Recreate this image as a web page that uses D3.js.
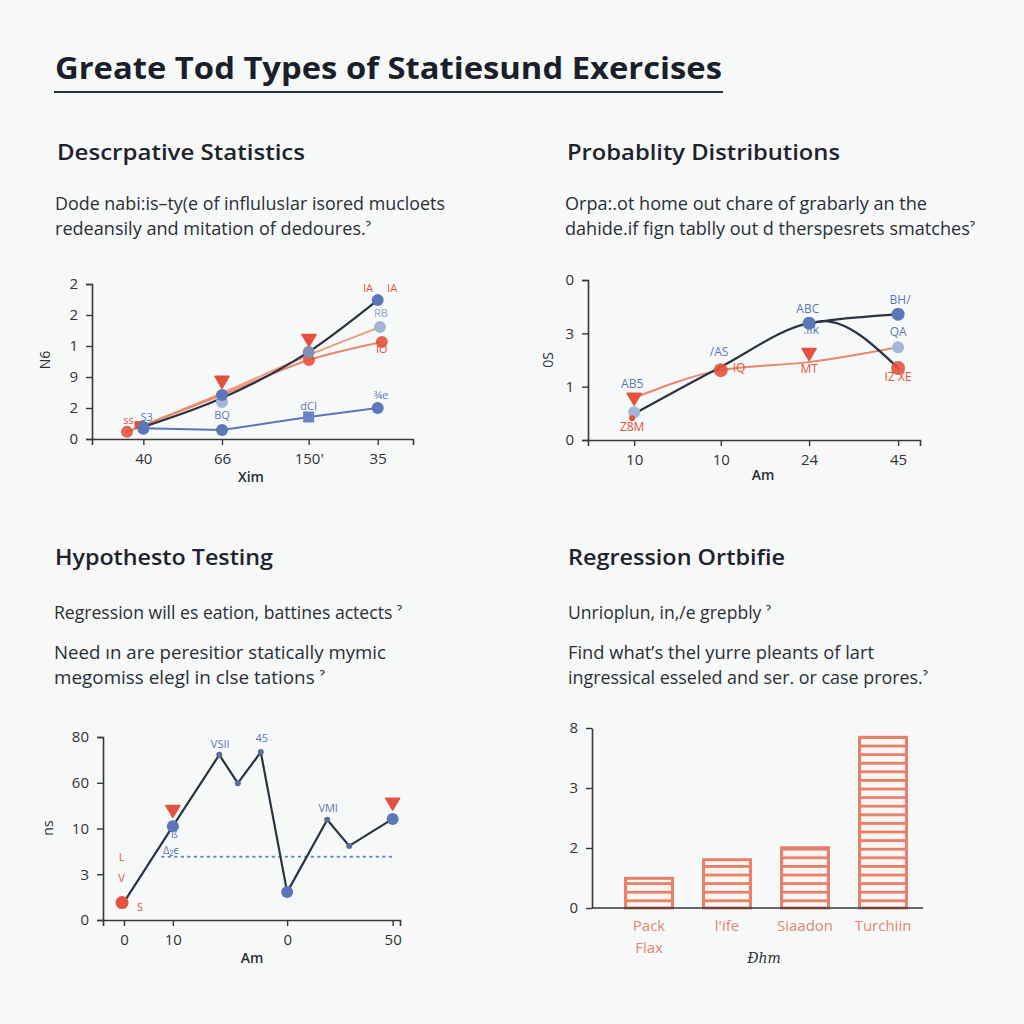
<!DOCTYPE html>
<html><head><meta charset="utf-8">
<script src="https://cdn.jsdelivr.net/npm/d3@7"></script>
<style>
html,body{margin:0;padding:0;background:#f7f9f9;}
svg{display:block;}
</style></head>
<body>
<script>
// ---------- DATA ----------
const titleText = "Greate Tod Types of Statiesund Exercises";
const headings = ["Descrpative Statistics","Probablity Distributions","Hypothesto Testing","Regression Ortbifie"];
const bodyP1 = ["Dode nabi:is\u2013ty(e of influlusIar isored mucloets","redeansily and mitation of dedoures.\u02C0"];
const bodyP2 = ["Orpa:.ot home out chare of grabarly an the","dahide.if fign tablly out d therspesrets smatches\u02C0"];
const bodyP3a = ["Regression will es eation, battines actects \u02C0"];
const bodyP3b = ["Need \u0131n are peresitior statically mymic","megomiss elegl in clse tations \u02C0"];
const bodyP4a = ["Unrioplun, in,/e grepbly \u02C0"];
const bodyP4b = ["Find what\u2019s thel yurre pleants of lart","ingressical esseled and ser. or case prores.\u02C0"];

// Panel 1
const p1TickX = [1.6, 4.05, 6.75, 8.9];
const p1TickXLabels = ["40","66","150'","35"];
const p1TickY = [0,1,2,3,4,5];
const p1TickYLabels = ["0","2","9","1","2","2"];
const p1Dark = [[1.6,0.39],[4.05,1.32],[6.75,2.81],[8.9,4.48]];
const p1OrangeA = [[1.09,0.23],[4.05,1.48],[6.76,2.71],[8.97,3.61]];
const p1OrangeB = [[1.09,0.23],[4.05,1.42],[6.76,2.55],[9.03,3.13]];
const p1Blue = [[1.6,0.35],[4.05,0.29],[6.75,0.71],[8.9,1.0]];
const p1DarkDots = [[1.6,0.39],[4.05,1.42],[8.9,4.48]];
const p1GreyDots = [[6.75,2.81]];
const p1LightDots = [[4.05,1.19],[8.97,3.61]];
const p1RedDots = [[6.76,2.55],[9.03,3.13],[1.09,0.23]];
const p1RedSquares = [[1.45,0.45]];
const p1RedTris = [[4.05,1.84],[6.76,3.19]];
const p1BlueDots = [[4.05,0.29],[8.9,1.0],[1.6,0.33]];
const p1BlueSquares = [[6.75,0.71]];
const p1Labels = [[8.6,4.73,"IA","r"],[9.35,4.73,"IA","r"],[9.0,3.95,"RB","l"],[9.03,2.78,"IO","r"],[4.05,0.63,"BQ","b"],[6.75,0.95,"dCI","b"],[9.0,1.28,"\u00BEe","b"],[1.14,0.47,"ss","r"],[1.7,0.57,"S3","b"]];

// Panel 2
const p2TickX = [1.39, 4.0, 6.66, 9.34];
const p2TickXLabels = ["10","10","24","45"];
const p2TickY = [0,1,2,3];
const p2TickYLabels = ["0","1","3","0"];
const p2Dark = [[1.5,0.53],[4.0,1.37],[6.66,2.19],[7.1,2.23],[9.34,1.35]];
const p2DarkUpper = [[6.66,2.19],[7.1,2.23],[9.34,2.36]];
const p2Orange = [[1.39,0.79],[4.0,1.31],[6.66,1.46],[9.34,1.74]];
const p2RedTris = [[1.39,0.77],[6.66,1.61]];
const p2RedDots = [[4.0,1.31],[9.34,1.35],[1.33,0.41]];
const p2BlueDots = [[6.66,2.19],[9.34,2.36]];
const p2LightDots = [[1.39,0.52],[9.34,1.74]];
const p2Labels = [[1.33,0.97,"AB5","b"],[1.33,0.17,"Z8M","r"],[3.95,1.58,"/AS","b"],[4.55,1.28,"IQ","r"],[6.62,2.38,"ABC","b"],[6.72,1.98,".\u0131Ik","b"],[6.66,1.26,"MT","r"],[9.4,2.55,"BH/","b"],[9.34,1.95,"QA","b"],[9.34,1.11,"IZ XE","r"]];

// Panel 3
const p3TickX = [0, 10, 33.4, 55];
const p3TickXLabels = ["0","10","0","50"];
const p3TickY = [0,1,2,3,4];
const p3TickYLabels = ["0","3","10","60","80"];
const p3Line = [[0,0.39],[10,2.05],[19.5,3.61],[23.3,2.99],[28,3.67],[33.4,0.61],[41.6,2.19],[46.1,1.62],[55,2.21]];
const p3Dotted = [[7.8,1.38],[55.2,1.38]];
const p3RedDots = [[-0.4,0.38]];
const p3BlueDots = [[10,2.05],[33.4,0.61],[55,2.21]];
const p3SmallDots = [[19.5,3.61],[23.3,2.99],[28,3.67],[41.6,2.19],[46.1,1.62]];
const p3RedTris = [[10,2.38],[55,2.54]];
const p3Labels = [[19.7,3.76,"VSII","b"],[28.2,3.9,"45","b"],[41.8,2.35,"VMI","b"],[-0.5,1.3,"L","r"],[-0.5,0.84,"V","r"],[3.3,0.2,"S","r"],[10.3,1.8,"\u00DF","b"],[9.6,1.45,"\u0394\u2082\u03F5","b"]];

// Panel 4
const p4Cats = ["Pack","l'ife","Siaadon","Turchiin"];
const p4Cats2 = ["Flax","","",""];
const p4Vals = [0.52, 0.83, 1.03, 2.87];
const p4TickY = [0,1,2,3];
const p4TickYLabels = ["0","2","3","8"];

// ---------- COLORS ----------
const C = {dark:"#2c3242", blue:"#5b76b9", light:"#a3b5d9", grey:"#7f90b6", red:"#e3523d", orange:"#e8876c", text:"#2a2d33", axis:"#35383d", bar:"#e4806a"};

const W=1024,H=1024;
const svg = d3.select("body").append("svg").attr("width",W).attr("height",H);
svg.append("rect").attr("width",W).attr("height",H).attr("fill","#f7f9f9");
const FONT = "'Open Sans', 'Noto Sans', sans-serif";

function fitText(sel, width){
  sel.attr("textLength", width).attr("lengthAdjust","spacingAndGlyphs");
}

// Title
svg.append("text").attr("x",55).attr("y",79).text(titleText)
  .attr("font-family",FONT).attr("font-weight",700).attr("font-size",31).attr("fill","#1b1f2b")
  .call(fitText, 667);
svg.append("line").attr("x1",54).attr("x2",723).attr("y1",92).attr("y2",92).attr("stroke","#2b2f3a").attr("stroke-width",2);

// Headings and bodies
function heading(t,x,y,w){
  svg.append("text").attr("x",x).attr("y",y).text(t).attr("font-family",FONT).attr("font-weight",600)
   .attr("font-size",22).attr("fill","#1e222c").call(fitText,w);
}
function body(t,x,y,w){
  svg.append("text").attr("x",x).attr("y",y).text(t).attr("font-family",FONT)
   .attr("font-size",18).attr("fill","#2b2e35").call(fitText,w);
}
heading(headings[0],57,160,248);
heading(headings[1],567,160,273);
heading(headings[2],55,565,218);
heading(headings[3],568,565,217);
body(bodyP1[0],55,210,390); body(bodyP1[1],55,235,316);
body(bodyP2[0],565,210,362); body(bodyP2[1],565,235,410);
body(bodyP3a[0],54,619,348);
body(bodyP3b[0],54,659,332); body(bodyP3b[1],54,684,271);
body(bodyP4a[0],568,619,203);
body(bodyP4b[0],568,659,306); body(bodyP4b[1],568,684,360);

// Generic axis helper
function drawAxes(x, y, xTicks, xLabels, yTicks, yLabels, xLabelText, xLabelPos, yLabelText, yLabelPos){
  const gx = svg.append("g").attr("transform",`translate(0,${y.range()[0]})`)
    .call(d3.axisBottom(x).tickValues(xTicks).tickFormat((d,i)=>xLabels[i]).tickSizeOuter(0).tickSize(6).tickPadding(8));
  const gy = svg.append("g").attr("transform",`translate(${x.range()[0]},0)`)
    .call(d3.axisLeft(y).tickValues(yTicks).tickFormat((d,i)=>yLabels[i]).tickSizeOuter(0).tickSize(6).tickPadding(8));
  [gx,gy].forEach(g=>{
    g.select(".domain").attr("stroke",C.axis).attr("stroke-width",1.6);
    g.selectAll(".tick line").attr("stroke",C.axis).attr("stroke-width",1.4);
    g.selectAll(".tick text").attr("font-family",FONT).attr("font-size",15).attr("fill","#303238");
  });
  if(xLabelText){
    svg.append("text").attr("x",xLabelPos[0]).attr("y",xLabelPos[1]).attr("text-anchor","middle").text(xLabelText)
      .attr("font-family",FONT).attr("font-weight",600).attr("font-size",14).attr("fill","#2a2d33");
  }
  if(yLabelText){
    svg.append("text").attr("transform",`translate(${yLabelPos[0]},${yLabelPos[1]}) rotate(-90)`).attr("text-anchor","middle").text(yLabelText)
      .attr("font-family",FONT).attr("font-size",14).attr("fill","#2a2d33");
  }
}

function pathLine(x,y,data,color,width,curve,dash){
  const l = d3.line().x(d=>x(d[0])).y(d=>y(d[1])).curve(curve||d3.curveLinear);
  const p = svg.append("path").attr("d",l(data)).attr("fill","none").attr("stroke",color).attr("stroke-width",width)
    .attr("stroke-linejoin","round").attr("stroke-linecap","round");
  if(dash) p.attr("stroke-dasharray",dash);
  return p;
}
function dots(x,y,data,color,r,opacity){
  svg.append("g").selectAll("circle").data(data).join("circle")
   .attr("cx",d=>x(d[0])).attr("cy",d=>y(d[1])).attr("r",r).attr("fill",color).attr("opacity",opacity||1);
}
function squares(x,y,data,color,s){
  svg.append("g").selectAll("rect").data(data).join("rect")
   .attr("x",d=>x(d[0])-s/2).attr("y",d=>y(d[1])-s/2).attr("width",s).attr("height",s).attr("fill",color);
}
function tris(x,y,data,color,s){
  svg.append("g").selectAll("path").data(data).join("path")
   .attr("d",d=>{const cx=x(d[0]),cy=y(d[1]);return `M${cx-s},${cy-s*0.8}L${cx+s},${cy-s*0.8}L${cx},${cy+s*0.9}Z`;})
   .attr("fill",color).attr("stroke",color).attr("stroke-width",1.5).attr("stroke-linejoin","round");
}
function labels(x,y,data,size){
  svg.append("g").selectAll("text").data(data).join("text")
   .attr("x",d=>x(d[0])).attr("y",d=>y(d[1])).attr("text-anchor","middle").text(d=>d[2])
   .attr("font-family",FONT).attr("font-size",size||11)
   .attr("fill",d=>d[3]==="r"?C.red:(d[3]==="l"?"#8ea3cf":C.blue));
}

// ---------- Panel 1 ----------
{
  const x = d3.scaleLinear().domain([0,10]).range([92,413]);
  const y = d3.scaleLinear().domain([0,5]).range([439,284]);
  drawAxes(x,y,p1TickX,p1TickXLabels,p1TickY,p1TickYLabels,"Xim",[251,482],"N6",[50,360]);
  pathLine(x,y,p1OrangeA,"#eb9a80",2,d3.curveMonotoneX);
  pathLine(x,y,p1OrangeB,C.orange,2,d3.curveMonotoneX);
  pathLine(x,y,p1Blue,C.blue,2);
  pathLine(x,y,p1Dark,C.dark,2.2,d3.curveMonotoneX);
  dots(x,y,p1LightDots,C.light,6);
  dots(x,y,p1RedDots,C.red,6,0.9);
  squares(x,y,p1RedSquares,C.red,8);
  dots(x,y,p1GreyDots,C.grey,6);
  dots(x,y,p1DarkDots,C.blue,6);
  dots(x,y,p1BlueDots,C.blue,6);
  squares(x,y,p1BlueSquares,"#6a85c2",11);
  tris(x,y,p1RedTris,C.red,7);
  labels(x,y,p1Labels,11);
}

// ---------- Panel 2 ----------
{
  const x = d3.scaleLinear().domain([0,10]).range([588,920]);
  const y = d3.scaleLinear().domain([0,3]).range([440,280]);
  drawAxes(x,y,p2TickX,p2TickXLabels,p2TickY,p2TickYLabels,"Am",[763,480],"0S",[553,360]);
  pathLine(x,y,p2Orange,C.orange,2,d3.curveMonotoneX);
  pathLine(x,y,p2Dark,C.dark,2.2,d3.curveMonotoneX);
  pathLine(x,y,p2DarkUpper,C.dark,2.2,d3.curveMonotoneX);
  dots(x,y,p2LightDots,C.light,6);
  dots(x,y,p2RedDots.slice(0,2),C.red,7,0.9);
  dots(x,y,p2RedDots.slice(2),C.red,3);
  dots(x,y,p2BlueDots,C.blue,6.5);
  tris(x,y,p2RedTris,C.red,7);
  labels(x,y,p2Labels,12);
}

// ---------- Panel 3 ----------
{
  const x = d3.scaleLinear().domain([-4.3,56.5]).range([103,400]);
  const y = d3.scaleLinear().domain([0,4]).range([920,737]);
  drawAxes(x,y,p3TickX,p3TickXLabels,p3TickY,p3TickYLabels,"Am",[252,963],"ns",[53,828]);
  pathLine(x,y,p3Dotted,"#6f86bd",2,null,"1.5,5");
  pathLine(x,y,p3Line,C.dark,2.2);
  dots(x,y,p3SmallDots,"#5d6f99",3);
  dots(x,y,p3RedDots,C.red,6.5);
  dots(x,y,p3BlueDots,C.blue,6);
  tris(x,y,p3RedTris,C.red,7);
  labels(x,y,p3Labels,11);
}

// ---------- Panel 4 ----------
{
  const x = d3.scaleBand().domain(p4Cats).range([610,922]).paddingInner(0.36).paddingOuter(0.18);
  const y = d3.scaleLinear().domain([0,3]).range([908,728]);
  const defs = svg.append("defs");
  const pat = defs.append("pattern").attr("id","stripes").attr("patternUnits","userSpaceOnUse")
    .attr("width",10).attr("height",8.6).attr("y",908);
  pat.append("rect").attr("width",10).attr("height",8.6).attr("fill","#fbf4f1");
  pat.append("rect").attr("y",0).attr("width",10).attr("height",2.8).attr("fill",C.bar);
  svg.append("g").selectAll("rect").data(p4Vals).join("rect")
    .attr("x",(d,i)=>x(p4Cats[i])+1.5).attr("width",x.bandwidth()-3)
    .attr("y",d=>y(d)+1.5).attr("height",d=>y(0)-y(d)-1.5)
    .attr("fill","url(#stripes)").attr("stroke",C.bar).attr("stroke-width",3);
  const gx = svg.append("g").attr("transform","translate(0,908)")
    .call(d3.axisBottom(x).tickSize(0).tickSizeOuter(0).tickPadding(12));
  gx.select(".domain").attr("d","M592,0H923").attr("stroke",C.axis).attr("stroke-width",1.6);
  gx.selectAll(".tick text").attr("font-family",FONT).attr("font-size",15).attr("fill","#e0876f");
  gx.selectAll(".tick").append("text").attr("y",45).attr("fill","#e0876f").attr("text-anchor","middle")
    .attr("font-family",FONT).attr("font-size",15).text((d,i)=>p4Cats2[i]);
  const gy = svg.append("g").attr("transform","translate(592,0)")
    .call(d3.axisLeft(y).tickValues(p4TickY).tickFormat((d,i)=>p4TickYLabels[i]).tickSize(6).tickSizeOuter(0).tickPadding(8));
  gy.select(".domain").attr("stroke",C.axis).attr("stroke-width",1.6);
  gy.selectAll(".tick line").attr("stroke",C.axis).attr("stroke-width",1.4);
  gy.selectAll(".tick text").attr("font-family",FONT).attr("font-size",15).attr("fill","#303238");
  svg.append("text").attr("x",764).attr("y",963).attr("text-anchor","middle").text("\u0110hm")
    .attr("font-family","'DejaVu Serif', serif").attr("font-style","italic").attr("font-size",14).attr("fill","#2a2d33");
}
</script>
</body></html>
